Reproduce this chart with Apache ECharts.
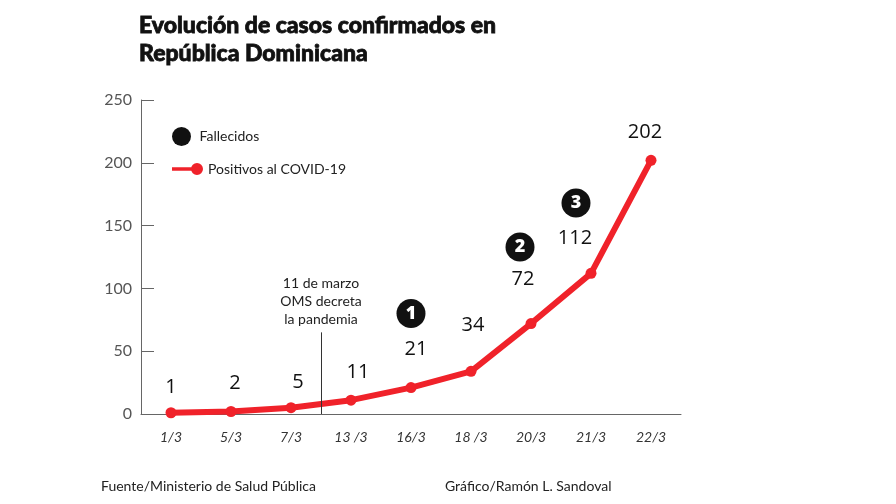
<!DOCTYPE html>
<html>
<head>
<meta charset="utf-8">
<script src="https://cdn.jsdelivr.net/npm/echarts@6/dist/echarts.min.js"></script>
<style>
html,body{margin:0;padding:0;background:#fff;}
#chart{width:896px;height:504px;}
</style>
</head>
<body>
<div id="chart"></div>
<script>
// ---- data ----
var dates = ['1/3', '5/3', '7/3', '13 /3', '16/3', '18 /3', '20/3', '21/3', '22/3'];
var positivos = [1, 2, 5, 11, 21, 34, 72, 112, 202];
var yTicks = [0, 50, 100, 150, 200, 250];

var fallecidosDates = ['16/3', '20/3', '21/3'];
var fallecidos = [1, 2, 3];
var fallecidosHeight = [80, 133, 168]; // vertical placement of markers (axis units)

var annotationText = ['11 de marzo', 'OMS decreta', 'la pandemia'];
var annotationAfter = '7/3';   // vertical line drawn at the boundary after this date
var annotationTop = 65;        // axis units

// ---- styles (label offsets in px) ----
var labelOffsets = [[0, -25], [4, -28], [7, -25], [7, -28], [5, -38], [2, -46], [-8, -44], [-16, -35], [-6, -28]];
var fallecidosOffsets = [[0, 0], [-11, 0], [-15, 0]];

var RED = '#f0222a';
var lineData = positivos.map(function (v, i) {
  return { value: v, label: { offset: labelOffsets[i] } };
});
var fallData = fallecidos.map(function (v, i) {
  return {
    value: [fallecidosDates[i], fallecidosHeight[i], v],
    symbolOffset: fallecidosOffsets[i]
  };
});
var boundaryX = dates.indexOf(annotationAfter) + 1;

var chart = echarts.init(document.getElementById('chart'), null, { renderer: 'canvas' });
chart.setOption({
  backgroundColor: '#fff',
  animation: false,
  title: {
    text: 'Evolución de casos confirmados en\nRepública Dominicana',
    left: 134, top: 7,
    textStyle: {
      fontFamily: 'Lato', fontWeight: 900, fontSize: 23, lineHeight: 28, color: '#111',
      textBorderColor: '#111', textBorderWidth: 0.8
    }
  },
  legend: [{
    left: 167, top: 122, itemWidth: 26, itemHeight: 19, itemGap: 5,
    data: [{ name: 'Fallecidos', icon: 'circle' }],
    itemStyle: { color: '#111', opacity: 1 },
    textStyle: { fontFamily: 'Lato', fontSize: 14, color: '#222' }
  }, {
    left: 167, top: 157, itemWidth: 31, itemHeight: 12, itemGap: 4,
    data: [{ name: 'Positivos al COVID-19', icon: 'path://M0,4.3H25V7.7H0Z M19,6A6,6 0 1,1 31,6A6,6 0 1,1 19,6Z' }],
    itemStyle: { color: RED, borderWidth: 0 },
    lineStyle: { width: 0 },
    textStyle: { fontFamily: 'Lato', fontSize: 14, color: '#222' }
  }],
  grid: { left: 141, right: 215, top: 100, bottom: 90 },
  xAxis: [{
    type: 'category',
    data: dates,
    boundaryGap: true,
    axisLine: { lineStyle: { color: '#666', width: 1 } },
    axisTick: { inside: true, length: 7, lineStyle: { color: '#666' } },
    axisLabel: { fontFamily: 'Lato', fontStyle: 'italic', fontSize: 14, color: '#333', margin: 16 },
    splitLine: { show: false }
  }, {
    type: 'value', min: 0, max: dates.length, show: false
  }],
  yAxis: {
    type: 'value',
    min: 0, max: 250, interval: 50,
    axisLine: { show: true, lineStyle: { color: '#666', width: 1 } },
    axisTick: { show: true, inside: true, length: 13, lineStyle: { color: '#666' } },
    axisLabel: {
      fontFamily: 'Lato', fontSize: 16, color: '#555', margin: 9,
      formatter: function (v) { return yTicks.indexOf(v) >= 0 ? String(v) : ''; }
    },
    splitLine: { show: false }
  },
  series: [{
    name: 'Positivos al COVID-19',
    type: 'line',
    data: lineData,
    symbol: 'circle',
    symbolSize: 11,
    itemStyle: { color: RED },
    lineStyle: { color: RED, width: 6 },
    z: 3,
    label: {
      show: true, position: 'inside',
      fontFamily: 'Open Sans', fontSize: 20, color: '#111'
    }
  }, {
    name: 'annotation',
    type: 'line',
    xAxisIndex: 1,
    data: [],
    silent: true,
    markLine: {
      silent: true,
      symbol: ['none', 'none'],
      lineStyle: { color: '#333', width: 1, type: 'solid' },
      label: {
        show: true, position: 'end', distance: 4,
        formatter: annotationText.join('\n'),
        fontFamily: 'Lato', fontSize: 14, lineHeight: 18, color: '#222', align: 'center'
      },
      data: [[{ coord: [boundaryX, 0] }, { coord: [boundaryX, annotationTop] }]]
    }
  }, {
    name: 'Fallecidos',
    type: 'scatter',
    data: fallData,
    symbol: 'circle',
    symbolSize: 29,
    itemStyle: { color: '#111', opacity: 1 },
    z: 4,
    label: {
      show: true, position: 'inside',
      formatter: function (p) { return String(p.value[2]); },
      fontFamily: 'Open Sans', fontWeight: 800, fontSize: 18, color: '#fff'
    }
  }],
  graphic: [{
    type: 'text', left: 101, top: 479,
    style: { text: 'Fuente/Ministerio de Salud Pública', font: '14px Lato', fill: '#222' }
  }, {
    type: 'text', left: 445, top: 479,
    style: { text: 'Gráfico/Ramón L. Sandoval', font: '14px Lato', fill: '#222' }
  }]
});
</script>
</body>
</html>
